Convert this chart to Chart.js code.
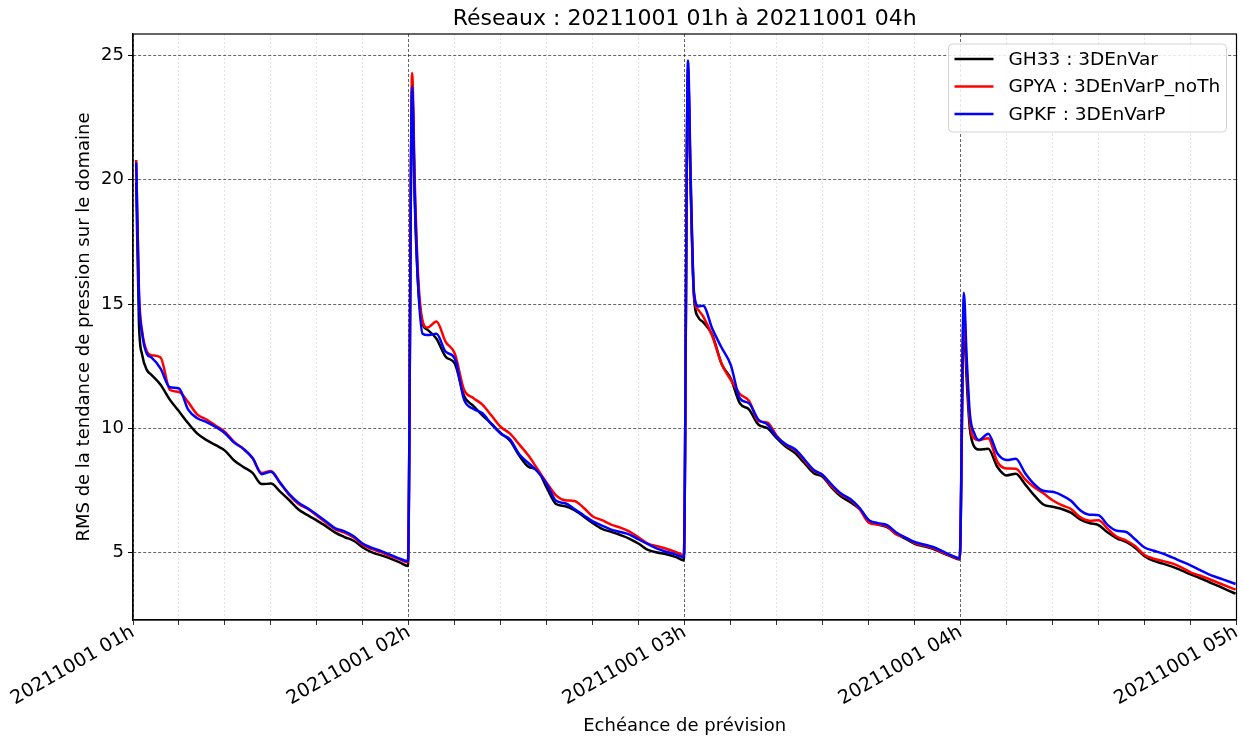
<!DOCTYPE html>
<html>
<head>
<meta charset="utf-8">
<title>RMS tendance de pression</title>
<script src="https://cdn.jsdelivr.net/npm/chart.js@4.4.0/dist/chart.umd.min.js"></script>
<style>
  html, body { margin: 0; padding: 0; background: #fff; }
  #wrap { width: 1243px; height: 738px; position: relative; }
</style>
</head>
<body>
<div id="wrap"><canvas id="rmsChart"></canvas></div>
<script>
// forecast range labels, one per hour (x in minutes since 01h)
var hourLabels = ['20211001 01h', '20211001 02h', '20211001 03h', '20211001 04h', '20211001 05h'];
var yTicks = [5, 10, 15, 20, 25];
var titleText = 'Réseaux : 20211001 01h à 20211001 04h';

// minutes after each run start at which the RMS is sampled
var minuteOffsets = [0.7, 1.3, 2, 3, 4, 6, 8, 10, 12, 14, 16, 18, 20, 22, 24, 26, 28, 30,
                     32, 34, 36, 38, 40, 42, 44, 46, 48, 50, 52, 54, 56, 58, 59.8];

// one row per hourly run
var gh33 = [
  [19.9, 14.2, 12.95, 12.35, 12.15, 11.75, 11.15, 10.68, 10.2, 9.78, 9.52, 9.32, 9.1, 8.7, 8.44, 8.2, 7.75, 7.77, 7.45, 7.1, 6.73, 6.5, 6.28, 6.05, 5.8, 5.62, 5.47, 5.2, 5.0, 4.88, 4.75, 4.6, 4.45],
  [23.6, 19.0, 15.8, 14.2, 13.97, 13.6, 12.88, 12.6, 11.3, 10.9, 10.52, 10.17, 9.8, 9.5, 8.9, 8.45, 8.31, 7.6, 6.95, 6.86, 6.7, 6.45, 6.18, 5.95, 5.83, 5.7, 5.55, 5.35, 5.1, 5.0, 4.93, 4.82, 4.68],
  [24.3, 19.5, 15.3, 14.45, 14.27, 13.75, 12.6, 12.0, 11.0, 10.75, 10.15, 10.0, 9.6, 9.25, 9.0, 8.6, 8.2, 8.05, 7.6, 7.25, 7.02, 6.75, 6.3, 6.12, 6.02, 5.75, 5.55, 5.35, 5.25, 5.15, 4.98, 4.83, 4.72],
  [14.3, 12.0, 10.0, 9.25, 9.14, 9.17, 8.44, 8.1, 8.17, 7.75, 7.3, 6.93, 6.84, 6.75, 6.6, 6.33, 6.18, 6.1, 5.8, 5.57, 5.42, 5.18, 4.85, 4.66, 4.55, 4.43, 4.28, 4.12, 3.97, 3.81, 3.65, 3.48, 3.34]
];
var gpya = [
  [20.8, 15.5, 13.9, 13.1, 12.94, 12.85, 11.55, 11.46, 11.05, 10.55, 10.35, 10.1, 9.85, 9.45, 9.17, 8.8, 8.2, 8.28, 7.8, 7.3, 6.95, 6.75, 6.48, 6.2, 5.93, 5.8, 5.6, 5.3, 5.13, 5.0, 4.85, 4.72, 4.6],
  [24.3, 19.8, 16.2, 14.3, 14.05, 14.3, 13.48, 13.0, 11.55, 11.22, 10.95, 10.5, 10.05, 9.78, 9.35, 8.9, 8.35, 7.8, 7.3, 7.1, 7.07, 6.8, 6.45, 6.3, 6.12, 6.0, 5.84, 5.6, 5.35, 5.25, 5.15, 5.02, 4.88],
  [24.5, 19.8, 15.4, 14.75, 14.5, 13.7, 12.6, 11.95, 11.38, 11.1, 10.3, 10.22, 9.7, 9.32, 9.12, 8.7, 8.3, 8.1, 7.65, 7.33, 7.12, 6.75, 6.2, 6.12, 6.05, 5.72, 5.6, 5.38, 5.28, 5.18, 5.0, 4.85, 4.74],
  [14.8, 12.5, 10.3, 9.58, 9.52, 9.6, 8.64, 8.38, 8.37, 7.95, 7.62, 7.38, 7.1, 6.9, 6.75, 6.42, 6.28, 6.3, 5.95, 5.63, 5.48, 5.25, 4.9, 4.75, 4.65, 4.56, 4.4, 4.2, 4.07, 3.93, 3.78, 3.63, 3.5]
];
var gpkf = [
  [20.7, 15.3, 13.8, 13.0, 12.85, 12.4, 11.65, 11.6, 10.75, 10.4, 10.25, 10.05, 9.8, 9.42, 9.17, 8.8, 8.15, 8.25, 7.8, 7.35, 7.0, 6.78, 6.52, 6.25, 5.97, 5.85, 5.65, 5.35, 5.18, 5.05, 4.9, 4.75, 4.65],
  [23.75, 19.3, 15.8, 13.8, 13.75, 13.8, 13.08, 12.8, 11.15, 10.78, 10.6, 10.15, 9.78, 9.55, 8.95, 8.6, 8.25, 7.75, 7.08, 6.98, 6.75, 6.5, 6.25, 6.08, 5.92, 5.82, 5.72, 5.52, 5.33, 5.15, 5.03, 4.92, 4.81],
  [24.8, 20.0, 15.5, 14.9, 14.93, 14.0, 13.25, 12.55, 11.2, 11.0, 10.35, 10.15, 9.65, 9.35, 9.15, 8.75, 8.33, 8.12, 7.72, 7.37, 7.15, 6.8, 6.3, 6.18, 6.1, 5.8, 5.6, 5.42, 5.32, 5.22, 5.05, 4.88, 4.76],
  [15.45, 12.9, 10.6, 9.78, 9.52, 9.78, 8.98, 8.72, 8.77, 8.2, 7.75, 7.48, 7.44, 7.3, 7.08, 6.7, 6.52, 6.5, 6.1, 5.87, 5.82, 5.52, 5.2, 5.07, 4.95, 4.8, 4.64, 4.48, 4.3, 4.12, 3.98, 3.85, 3.73]
];

function toPoints(runs) {
  var pts = [];
  runs.forEach(function (vals, h) {
    vals.forEach(function (v, i) {
      pts.push({ x: h * 60 + minuteOffsets[i], y: v });
    });
  });
  return pts;
}

function isHour(ctx) {
  return ctx.tick && ctx.tick.value % 60 === 0;
}

Chart.defaults.font.family = '"DejaVu Sans", sans-serif';
Chart.defaults.color = '#000';

// frame around the axes, centred title and boxed legend
var decorPlugin = {
  id: 'decor',
  afterDraw: function (chart) {
    var ctx = chart.ctx, a = chart.chartArea;
    ctx.save();
    ctx.strokeStyle = '#000';
    ctx.lineWidth = 1.2;
    ctx.setLineDash([]);
    ctx.strokeRect(a.left, a.top, a.right - a.left, a.bottom - a.top);

    ctx.fillStyle = '#000';
    ctx.font = '22px "DejaVu Sans"';
    ctx.textAlign = 'center';
    ctx.textBaseline = 'middle';
    ctx.fillText(titleText, (a.left + a.right) / 2, 19);

    var w = 278, h = 88;
    var bx = a.right - 10 - w, by = a.top + 10;
    ctx.beginPath();
    ctx.roundRect(bx, by, w, h, 4);
    ctx.fillStyle = 'rgba(255,255,255,0.85)';
    ctx.fill();
    ctx.strokeStyle = '#d3d3d3';
    ctx.lineWidth = 1;
    ctx.stroke();

    ctx.font = '18.5px "DejaVu Sans"';
    ctx.textAlign = 'left';
    chart.data.datasets.forEach(function (ds, i) {
      var ly = by + 15 + i * 27.5;
      ctx.beginPath();
      ctx.moveTo(bx + 6, ly);
      ctx.lineTo(bx + 45, ly);
      ctx.strokeStyle = ds.borderColor;
      ctx.lineWidth = 2.5;
      ctx.stroke();
      ctx.fillStyle = '#000';
      ctx.fillText(ds.label, bx + 60, ly + 1);
    });
    ctx.restore();
  }
};

var lineStyle = {
  borderWidth: 2.5,
  pointRadius: 0,
  cubicInterpolationMode: 'monotone',
  borderJoinStyle: 'round',
  fill: false
};

new Chart(document.getElementById('rmsChart'), {
  type: 'line',
  data: {
    datasets: [
      Object.assign({ label: 'GH33 : 3DEnVar', data: toPoints(gh33), borderColor: '#000000', order: 2 }, lineStyle),
      Object.assign({ label: 'GPYA : 3DEnVarP_noTh', data: toPoints(gpya), borderColor: '#ff0000', order: 1 }, lineStyle),
      Object.assign({ label: 'GPKF : 3DEnVarP', data: toPoints(gpkf), borderColor: '#0000ff', order: 0 }, lineStyle)
    ]
  },
  options: {
    responsive: true,
    maintainAspectRatio: false,
    animation: false,
    layout: { padding: { top: 34, right: 6.5, left: 0, bottom: 0 } },
    plugins: {
      legend: { display: false },
      title: { display: false },
      tooltip: { enabled: false }
    },
    scales: {
      x: {
        type: 'linear',
        min: 0,
        max: 240,
        bounds: 'data',
        afterBuildTicks: function (scale) {
          var t = [];
          for (var m = 0; m <= 240; m += 10) t.push({ value: m });
          scale.ticks = t;
        },
        afterFit: function (scale) {
          scale.height = 118;
          scale.paddingRight = 0;
        },
        ticks: {
          autoSkip: false,
          minRotation: 30,
          maxRotation: 30,
          padding: -4,
          font: { size: 19 },
          color: '#000',
          callback: function (v) { return v % 60 === 0 ? hourLabels[v / 60] : ''; }
        },
        grid: {
          color: function (ctx) { return isHour(ctx) ? 'rgba(0,0,0,0.75)' : 'rgba(0,0,0,0.14)'; },
          lineWidth: 0.8,
          tickLength: 5,
          tickWidth: 1,
          tickColor: '#333',
          tickBorderDash: []
        },
        border: {
          color: '#000',
          width: 1.2,
          dash: function (ctx) { return isHour(ctx) ? [3, 2] : [2, 2]; }
        },
        title: {
          display: true,
          text: 'Echéance de prévision',
          font: { size: 18 },
          color: '#000',
          padding: { top: 0, bottom: 1 }
        }
      },
      y: {
        min: 2.28,
        max: 25.87,
        bounds: 'data',
        afterBuildTicks: function (scale) {
          scale.ticks = yTicks.map(function (v) { return { value: v }; });
        },
        afterFit: function (scale) { scale.width = 133; },
        ticks: { font: { size: 18 }, color: '#000', padding: 4 },
        grid: {
          color: 'rgba(0,0,0,0.75)',
          lineWidth: 0.8,
          tickLength: 5,
          tickWidth: 1,
          tickColor: '#000',
          tickBorderDash: []
        },
        border: { color: '#000', width: 1.2, dash: [3, 2] },
        title: {
          display: true,
          text: 'RMS de la tendance de pression sur le domaine',
          font: { size: 18 },
          color: '#000',
          padding: { top: 74, bottom: 0 }
        }
      }
    }
  },
  plugins: [decorPlugin]
});
</script>
</body>
</html>
